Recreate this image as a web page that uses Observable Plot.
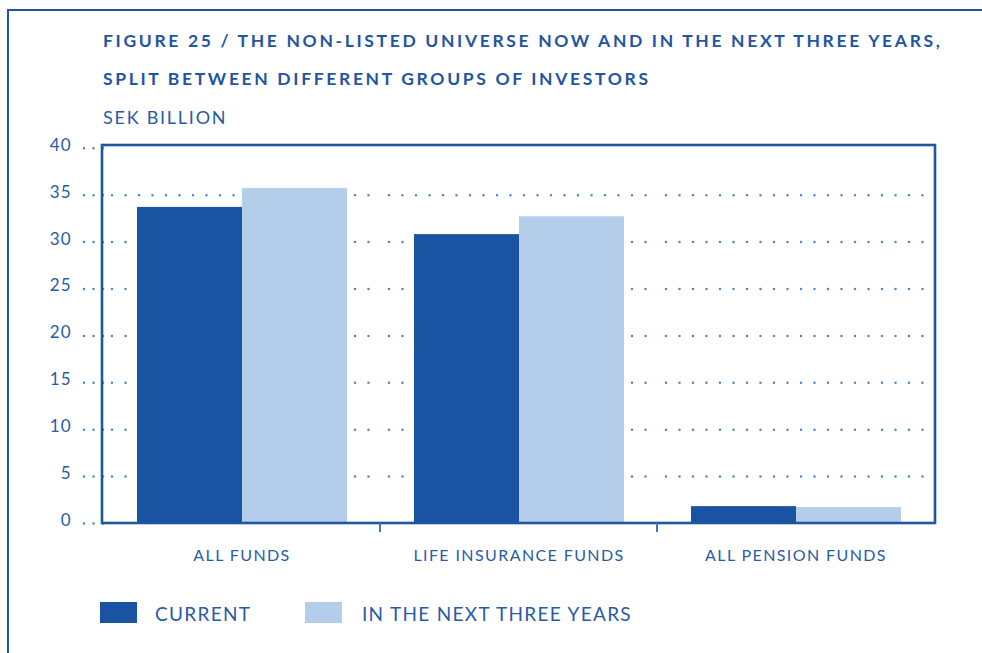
<!DOCTYPE html>
<html>
<head>
<meta charset="utf-8">
<script src="https://cdn.jsdelivr.net/npm/d3@7"></script>
<script src="https://cdn.jsdelivr.net/npm/@observablehq/plot@0.6"></script>
<style>
  html, body { margin: 0; padding: 0; background: #fff; }
  body { width: 982px; height: 653px; overflow: hidden; position: relative; font-family: Lato, "Open Sans", sans-serif; }
  .page-border { position: absolute; left: 7px; top: 9px; width: 1000px; height: 700px; border-left: 2.5px solid #1f56a2; border-top: 2.5px solid #1f56a2; box-sizing: border-box; }
  .t { position: absolute; left: 103px; white-space: nowrap; line-height: 1; color: #1f55a2; }
  .title { font-weight: 700; font-size: 17.5px; letter-spacing: 2.65px; }
  .sub { font-size: 18px; letter-spacing: 1.75px; color: #2a5ba5; }
  #chart { position: absolute; left: 0; top: 130px; }
  .legend { position: absolute; top: 602px; left: 0; }
  .sw { position: absolute; width: 37px; height: 21px; }
  .lt { position: absolute; top: 2px; font-size: 19px; line-height: 1; letter-spacing: 1.3px; color: #2a5ba5; white-space: nowrap; }
  g[aria-label="fx-axis tick label"] text { letter-spacing: 1.4px; }
  g[aria-label="y-axis tick label"] text { letter-spacing: 1px; }
</style>
</head>
<body>
<div class="page-border"></div>
<div class="t title" style="top:32px">FIGURE 25 / THE NON-LISTED UNIVERSE NOW AND IN THE NEXT THREE YEARS,</div>
<div class="t title" style="top:70px">SPLIT BETWEEN DIFFERENT GROUPS OF INVESTORS</div>
<div class="t sub" style="top:108px">SEK BILLION</div>
<div id="chart"></div>
<div class="legend" id="legend"></div>
<script>
const groups = ["ALL FUNDS", "LIFE INSURANCE FUNDS", "ALL PENSION FUNDS"];
const series = ["CURRENT", "IN THE NEXT THREE YEARS"];
const currentValues = [33.7, 30.8, 1.8];
const nextValues = [35.7, 32.7, 1.7];
const yTicks = [0, 5, 10, 15, 20, 25, 30, 35, 40];
const gridTicks = [5, 10, 15, 20, 25, 30, 35];
const seriesColors = ["#1a53a1", "#b4cdea"];

const data = groups.flatMap((g, i) => [
  {group: g, series: series[0], value: currentValues[i]},
  {group: g, series: series[1], value: nextValues[i]}
]);

const dark = "#1f56a2";
const textColor = "#2a5ba5";
const dotColor = "#4f87c7";

const chart = Plot.plot({
  width: 982,
  height: 440,
  marginTop: 15,
  marginBottom: 47,
  marginLeft: 102,
  marginRight: 47,
  style: {fontFamily: "Lato, 'Open Sans', sans-serif", color: textColor, background: "transparent", overflow: "visible"},
  fx: {domain: groups, padding: 0, label: null},
  x: {domain: series, paddingInner: 0, paddingOuter: 0.31, axis: null},
  y: {domain: [0, 40.3], label: null},
  color: {domain: series, range: seriesColors},
  marks: [
    Plot.ruleY(gridTicks, {stroke: dotColor, strokeWidth: 2.5, strokeDasharray: "0,13.5", strokeLinecap: "round", insetLeft: 9}),
    Plot.barY(data, {fx: "group", x: "series", y: "value", fill: "series"}),
    // dotted ticks (no labels)
    Plot.axisY({ticks: yTicks, tickSize: 20, tickFormat: () => "", label: null, stroke: dotColor, strokeWidth: 2.5, strokeDasharray: "0,9.5", strokeLinecap: "round"}),
    // labels, nudged slightly above the ticks
    Plot.axisY({ticks: yTicks, tickSize: 0, tickPadding: 32, dy: -3, fontSize: 17, label: null, fill: textColor}),
    Plot.axisFx({anchor: "bottom", tickSize: 0, tickPadding: 26, fontSize: 16, label: null, fill: textColor})
  ]
});

document.getElementById("chart").appendChild(chart);

// Frame and group separator ticks from the library's scales
const fxS = chart.scale("fx");
const yS = chart.scale("y");
const [frameLeft, frameRight] = fxS.range;
const [frameBottom, frameTop] = yS.range;
const svgSel = d3.select(chart);
svgSel.append("rect")
  .attr("x", frameLeft).attr("y", frameTop)
  .attr("width", frameRight - frameLeft).attr("height", frameBottom - frameTop)
  .attr("fill", "none").attr("stroke", dark).attr("stroke-width", 2.6);
groups.slice(1).forEach(g => {
  const xx = fxS.apply(g);
  svgSel.append("line")
    .attr("x1", xx).attr("x2", xx)
    .attr("y1", frameBottom).attr("y2", frameBottom + 9)
    .attr("stroke", "#3f74b8").attr("stroke-width", 2);
});

// Legend
const legendEl = document.getElementById("legend");
const legendPos = [{sw: 100, tx: 155}, {sw: 305, tx: 362}];
series.forEach((s, i) => {
  const sw = document.createElement("div");
  sw.className = "sw";
  sw.style.left = legendPos[i].sw + "px";
  sw.style.background = seriesColors[i];
  legendEl.appendChild(sw);
  const t = document.createElement("div");
  t.className = "lt";
  t.style.left = legendPos[i].tx + "px";
  t.textContent = s;
  legendEl.appendChild(t);
});
</script>
</body>
</html>
